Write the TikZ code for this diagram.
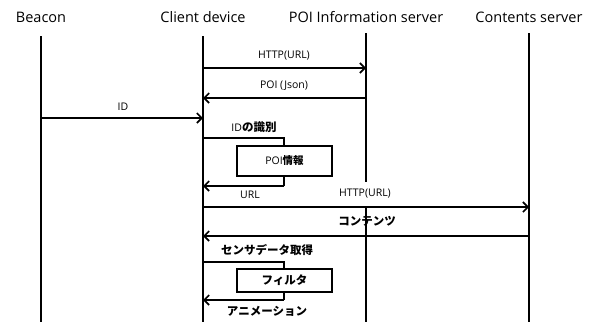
\documentclass[tikz,border=0pt]{standalone}
\usepackage{fontspec}
\setmainfont{Open Sans}
\newfontfamily\jp{Noto Sans CJK JP}
\usetikzlibrary{arrows.meta}
\tikzset{
  life/.style={line width=1.7pt},
  msg/.style={line width=1.7pt,-{Straight Barb[length=5pt,width=10pt,line width=1.6pt]}},
  loopl/.style={line width=1.7pt},
  head/.style={font=\fontsize{14.5}{16}\selectfont,inner sep=0pt},
  lbl/.style={font=\fontsize{10.5}{12}\selectfont,inner sep=0pt},
  jlbl/.style={font=\fontsize{11.5}{13}\selectfont\jp\bfseries,inner sep=0pt},
  proc/.style={draw,line width=1.7pt,fill=white,minimum width=95pt,inner sep=0pt}
}
\begin{document}
\begin{tikzpicture}[x=1pt,y=-1pt]
\useasboundingbox (0,0) rectangle (593,322);
% headers
\node[head] (hb) at (41,17) {Beacon};
\node[head] (hc) at (203,17) {Client device};
\node[head] (hp) at (366,17) {POI Information server};
\node[head] (hs) at (529,17) {Contents server};
% lifeline coordinates
\coordinate (bT) at (41,36);  \coordinate (bB) at (41,322);
\coordinate (cT) at (203,36); \coordinate (cB) at (203,322);
\coordinate (pT) at (366,33); \coordinate (pG1) at (366,182);
\coordinate (pG2) at (366,207); \coordinate (pB) at (366,322);
\coordinate (sT) at (529,33); \coordinate (sB) at (529,322);
\draw[life] (bT) -- (bB);
\draw[life] (cT) -- (cB);
\draw[life] (pT) -- (pG1);
\draw[life] (pG2) -- (pB);
\draw[life] (sT) -- (sB);
% message endpoints
\coordinate (c1) at (203,68);  \coordinate (p1) at (366,68);
\coordinate (p2) at (366,98);  \coordinate (c2) at (203,98);
\coordinate (b3) at (41,118);  \coordinate (c3) at (203,118);
\coordinate (c4) at (203,207); \coordinate (s4) at (529,207);
\coordinate (s5) at (529,236); \coordinate (c5) at (203,236);
% loop points
\coordinate (l1a) at (203,138); \coordinate (l1b) at (284,138);
\coordinate (l1c) at (284,186); \coordinate (l1d) at (203,186);
\coordinate (l2a) at (203,262); \coordinate (l2b) at (284,262);
\coordinate (l2c) at (284,300); \coordinate (l2d) at (203,300);
% messages
\draw[msg] (c1) -- (p1);
\node[lbl] (t1) at (284,56) {HTTP(URL)};
\draw[msg] (p2) -- (c2);
\node[lbl] (t2) at (284,86) {POI (Json)};
\draw[msg] (b3) -- (c3);
\node[lbl] (t3) at (123,107) {ID};
% loop 1
\draw[loopl] (l1a) -- (l1b) -- (l1c);
\draw[msg] (l1c) -- (l1d);
\node[lbl] (t4) at (254,127) {ID{\jp\bfseries\fontsize{11.5}{13}\selectfont の識別}};
\node[proc,minimum height=30pt] (box1) at (284.5,161) {\fontsize{10.5}{12}\selectfont POI{\jp\bfseries 情報}};
\node[lbl] (t5) at (250,195) {URL};
% contents
\draw[msg] (c4) -- (s4);
\node[lbl] (t6) at (365,194) {HTTP(URL)};
\draw[msg] (s5) -- (c5);
\node[jlbl] (t7) at (367,221) {コンテンツ};
% loop 2
\draw[loopl] (l2a) -- (l2b) -- (l2c);
\draw[msg] (l2c) -- (l2d);
\node[jlbl] (t8) at (267,250) {センサデータ取得};
\node[proc,minimum height=23pt] (box2) at (284.5,280.5) {\jp\bfseries\fontsize{11.5}{13}\selectfont フィルタ};
\node[jlbl] (t9) at (267,311) {アニメーション};
\end{tikzpicture}
\end{document}
